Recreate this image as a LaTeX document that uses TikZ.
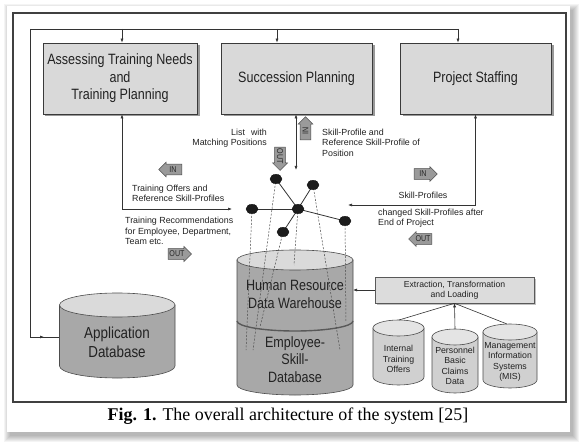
\documentclass[tikz,border=0pt]{standalone}
\usepackage{fontspec}
\setmainfont{Liberation Sans}
\newfontfamily\narrowfont[FakeStretch=0.84]{Liberation Sans}
\newfontfamily\serifcap{Liberation Serif}
\usetikzlibrary{shapes.geometric,shapes.arrows,arrows.meta,shadows}
\definecolor{boxfill}{HTML}{D9D9D9}
\definecolor{boxline}{HTML}{3A3A3A}
\definecolor{lin}{HTML}{333333}
\definecolor{txt}{HTML}{222222}
\definecolor{bigbody}{HTML}{A8A8A8}
\definecolor{bigtop}{HTML}{DADADA}
\definecolor{smallbody}{HTML}{D0D0D0}
\definecolor{smalltop}{HTML}{E4E4E4}
\definecolor{etlfill}{HTML}{DCDCDC}
\definecolor{arrfill}{HTML}{9A9A9A}
\definecolor{arrline}{HTML}{4D4D4D}
\definecolor{nodecol}{HTML}{1C1C1C}
\newcommand\drawcyl[7]{%
  \pgfmathsetmacro\cylcx{(#1+#2)/2}%
  \pgfmathsetmacro\cylrx{(#2-#1)/2}%
  \pgfmathsetmacro\cylk{0.5523*\cylrx}%
  \pgfmathsetmacro\cylky{#4+0.5523*#5}%
  \pgfmathsetmacro\cyllow{#4+#5}%
  \filldraw[cylstroke, fill=#6] (#1,#3) -- (#1,#4) .. controls (#1,\cylky) and (\cylcx-\cylk,\cyllow) .. (\cylcx,\cyllow) .. controls (\cylcx+\cylk,\cyllow) and (#2,\cylky) .. (#2,#4) -- (#2,#3) -- cycle;
  \filldraw[cylstroke, fill=#7] (\cylcx,#3) ellipse [x radius=\cylrx, y radius=#5];
}
\begin{document}
\begin{tikzpicture}[x=1bp,y=-1bp,
  cylstroke/.style={draw=black!70, line width=0.6pt},
  mainbox/.style={draw=boxline, fill=boxfill, line width=0.7pt, minimum height=71bp, align=center, inner sep=0pt,
    font=\narrowfont\fontsize{15}{17.5}\selectfont, text=txt,
    drop shadow={shadow xshift=2.5bp, shadow yshift=-2.5bp, fill=black!50, opacity=0.8}},
  conn/.style={draw=lin, line width=0.6pt},
  tip/.style={-{Latex[length=4bp,width=3bp]}},
  tipboth/.style={{Latex[length=4bp,width=3bp]}-{Latex[length=4bp,width=3bp]}},
  small/.style={font=\fontsize{8.9}{10.6}\selectfont, text=txt, inner sep=0pt},
  blockarr/.style={single arrow, draw=arrline, fill=arrfill, line width=0.5pt,
    font=\narrowfont\fontsize{8.5}{8.5}\selectfont, inner xsep=1.2bp, inner ysep=2.2bp,
    single arrow head extend=2bp, minimum height=23bp, text=black!85},
  netnode/.style={ellipse, minimum width=12bp, minimum height=9.5bp, inner sep=0pt, fill=nodecol, draw=black, line width=0.3pt},
  netedge/.style={draw=black!80, line width=0.8pt},
  proj/.style={draw=black!70, line width=0.5pt, dash pattern=on 2bp off 1.5bp},
  dbtext/.style={align=center, inner sep=0pt, text=txt, font=\narrowfont\fontsize{15}{18}\selectfont},
  cyltext/.style={align=center, inner sep=0pt, text=txt, font=\fontsize{8.8}{10.8}\selectfont},
]
\useasboundingbox (0,0) rectangle (583,448);
\fill[white] (0,0) rectangle (583,448);
% page shadow
\foreach \i in {0,...,6} {
  \fill[black, opacity=0.045] (10-\i,10-\i) rectangle (573+\i,436+\i);
}
\fill[white] (7,6) rectangle (570,432);
\draw[line width=1.1pt, draw=black!75] (13,13) rectangle (566,402);

% caption
\node[font=\serifcap\fontsize{18}{20}\selectfont, text=black, inner sep=0pt] (cap) at (288,416)
  {\textbf{Fig. 1.} The overall architecture of the system [25]};

% top boxes
\node[mainbox, minimum width=154bp] (atn) at (120,78.5) {Assessing Training Needs\\and\\Training Planning};
\node[mainbox, minimum width=151bp] (sp) at (296.5,78.5) {Succession Planning};
\node[mainbox, minimum width=151bp] (ps) at (475.5,78.5) {Project Staffing};

% bus
\coordinate (busL) at (30,29);
\coordinate (busR) at (458,29);
\coordinate (b1) at (122,29);
\coordinate (b2) at (277,29);
\draw[conn] (busL) -- (busR);
\draw[conn,tip] (b1) -- (b1 |- atn.north);
\draw[conn,tip] (b2) -- (b2 |- sp.north);
\draw[conn,tip] (busR) -- (busR |- ps.north);

% left line to application database
\coordinate (appin) at (59.5,337);
\coordinate (appcorner) at (30,337);
\coordinate (appmid) at (44,337);
\draw[conn] (busL) -- (appcorner) -- (appin);
\draw[conn,tip] (appcorner) -- (appmid);

% connectors from boxes
\coordinate (trainEnd) at (232,209);
\coordinate (spEnd) at (296,170);
\coordinate (psEnd) at (348,205);
\draw[conn,tipboth] (b1 |- atn.south) |- (trainEnd);
\draw[conn,tipboth] (spEnd |- sp.south) -- (spEnd);
\draw[conn,tipboth] (ps.south) |- (psEnd);

% block arrows
\node[blockarr, rotate=90] (inSP) at (305.5,131) {IN};
\node[blockarr, rotate=-90] (outSP) at (280,156) {OUT};
\node[blockarr, shape border rotate=180] (inTR) at (173,169.5) {IN};
\node[blockarr] (outTR) at (177,254) {OUT};
\node[blockarr] (inPS) at (423,174) {IN};
\node[blockarr, shape border rotate=180] (outPS) at (423,239) {OUT};

% labels
\node[small, align=right, anchor=east] (lwm) at (267,138) {List\hspace{6bp}with\\Matching Positions};
\node[small, align=left, anchor=west] (spr) at (322,142.5) {Skill-Profile and\\Reference Skill-Profile of\\Position};
\node[small, align=left, anchor=west] (tor) at (132,193.5) {Training Offers and\\Reference Skill-Profiles};
\node[small, align=left, anchor=west] (trc) at (125,231) {Training Recommendations\\for Employee, Department,\\Team etc.};
\node[small] (skp) at (423,195) {Skill-Profiles};
\node[small, align=left, anchor=west] (csp) at (378,218) {changed Skill-Profiles after\\End of Project};

% Application database
\drawcyl{59.5}{175}{305}{366}{12}{bigbody}{bigtop}
\node[dbtext, font=\narrowfont\fontsize{16}{19}\selectfont] (appdb) at (117,342.5) {Application\\Database};

% HR data warehouse
\drawcyl{237}{353}{260}{385}{10}{bigbody}{bigtop}
\draw[draw=black!65, line width=1.4pt] (237,321) .. controls (237,326.5) and (263,331) .. (295,331) .. controls (327,331) and (353,326.5) .. (353,321);
\node[dbtext] (hrdw) at (295,294) {Human Resource\\Data Warehouse};
\node[dbtext, font=\narrowfont\fontsize{15}{17.5}\selectfont] (esdb) at (295,359.5) {Employee-\\Skill-\\Database};

% ETL and source systems
\node[draw=black!65, fill=etlfill, line width=0.6pt, minimum width=159bp, minimum height=26bp, align=center, inner sep=0pt,
  font=\fontsize{8.7}{10.5}\selectfont, text=txt,
  drop shadow={shadow xshift=1.5bp, shadow yshift=-1.5bp, fill=black!40, opacity=0.6}] (etl) at (454.5,290) {Extraction, Transformation\\and Loading};
\coordinate (hrE) at (353,290);
\draw[conn,tip] (etl.west) -- (hrE);

\drawcyl{373}{424}{328}{377}{8}{smallbody}{smalltop}
\drawcyl{432}{478}{337}{385}{8}{smallbody}{smalltop}
\drawcyl{483}{537}{332}{380}{8}{smallbody}{smalltop}
\node[cyltext] (ito) at (398.5,359) {Internal\\Training\\Offers};
\node[cyltext, font=\fontsize{8.8}{10.5}\selectfont] (pbc) at (455,366) {Personnel\\Basic\\Claims\\Data};
\node[cyltext, font=\fontsize{8.8}{10.6}\selectfont] (mis) at (510,362) {Management\\Information\\Systems\\(MIS)};
\coordinate (c1top) at (399,320);
\coordinate (c2top) at (455,329);
\coordinate (c3top) at (507,324);
\draw[conn] (c1top) -- (etl.south);
\draw[conn] (c3top) -- (etl.south);
\draw[conn,tip] (c2top) -- (etl.south);

% network
\coordinate (n1) at (276,179);
\coordinate (n2) at (313,185);
\coordinate (n3) at (252,209);
\coordinate (hub) at (298,209);
\coordinate (n5) at (345,221);
\coordinate (n6) at (283,232);
\coordinate (p3) at (246,350);
\coordinate (p1) at (253,350);
\coordinate (p6) at (260,327);
\coordinate (ph) at (294,265);
\coordinate (p2) at (340,350);
\coordinate (p5) at (346,322);
\draw[proj] (n3) -- (p3);
\draw[proj] (n1) -- (p1);
\draw[proj] (n6) -- (p6);
\draw[proj] (hub) -- (ph);
\draw[proj] (n2) -- (p2);
\draw[proj] (n5) -- (p5);
\draw[netedge] (hub) -- (n1);
\draw[netedge] (hub) -- (n2);
\draw[netedge] (hub) -- (n3);
\draw[netedge] (hub) -- (n5);
\draw[netedge] (hub) -- (n6);
\node[netnode] (dn1) at (n1) {};
\node[netnode] (dn2) at (n2) {};
\node[netnode] (dn3) at (n3) {};
\node[netnode] (dhub) at (hub) {};
\node[netnode] (dn5) at (n5) {};
\node[netnode] (dn6) at (n6) {};
\end{tikzpicture}
\end{document}
